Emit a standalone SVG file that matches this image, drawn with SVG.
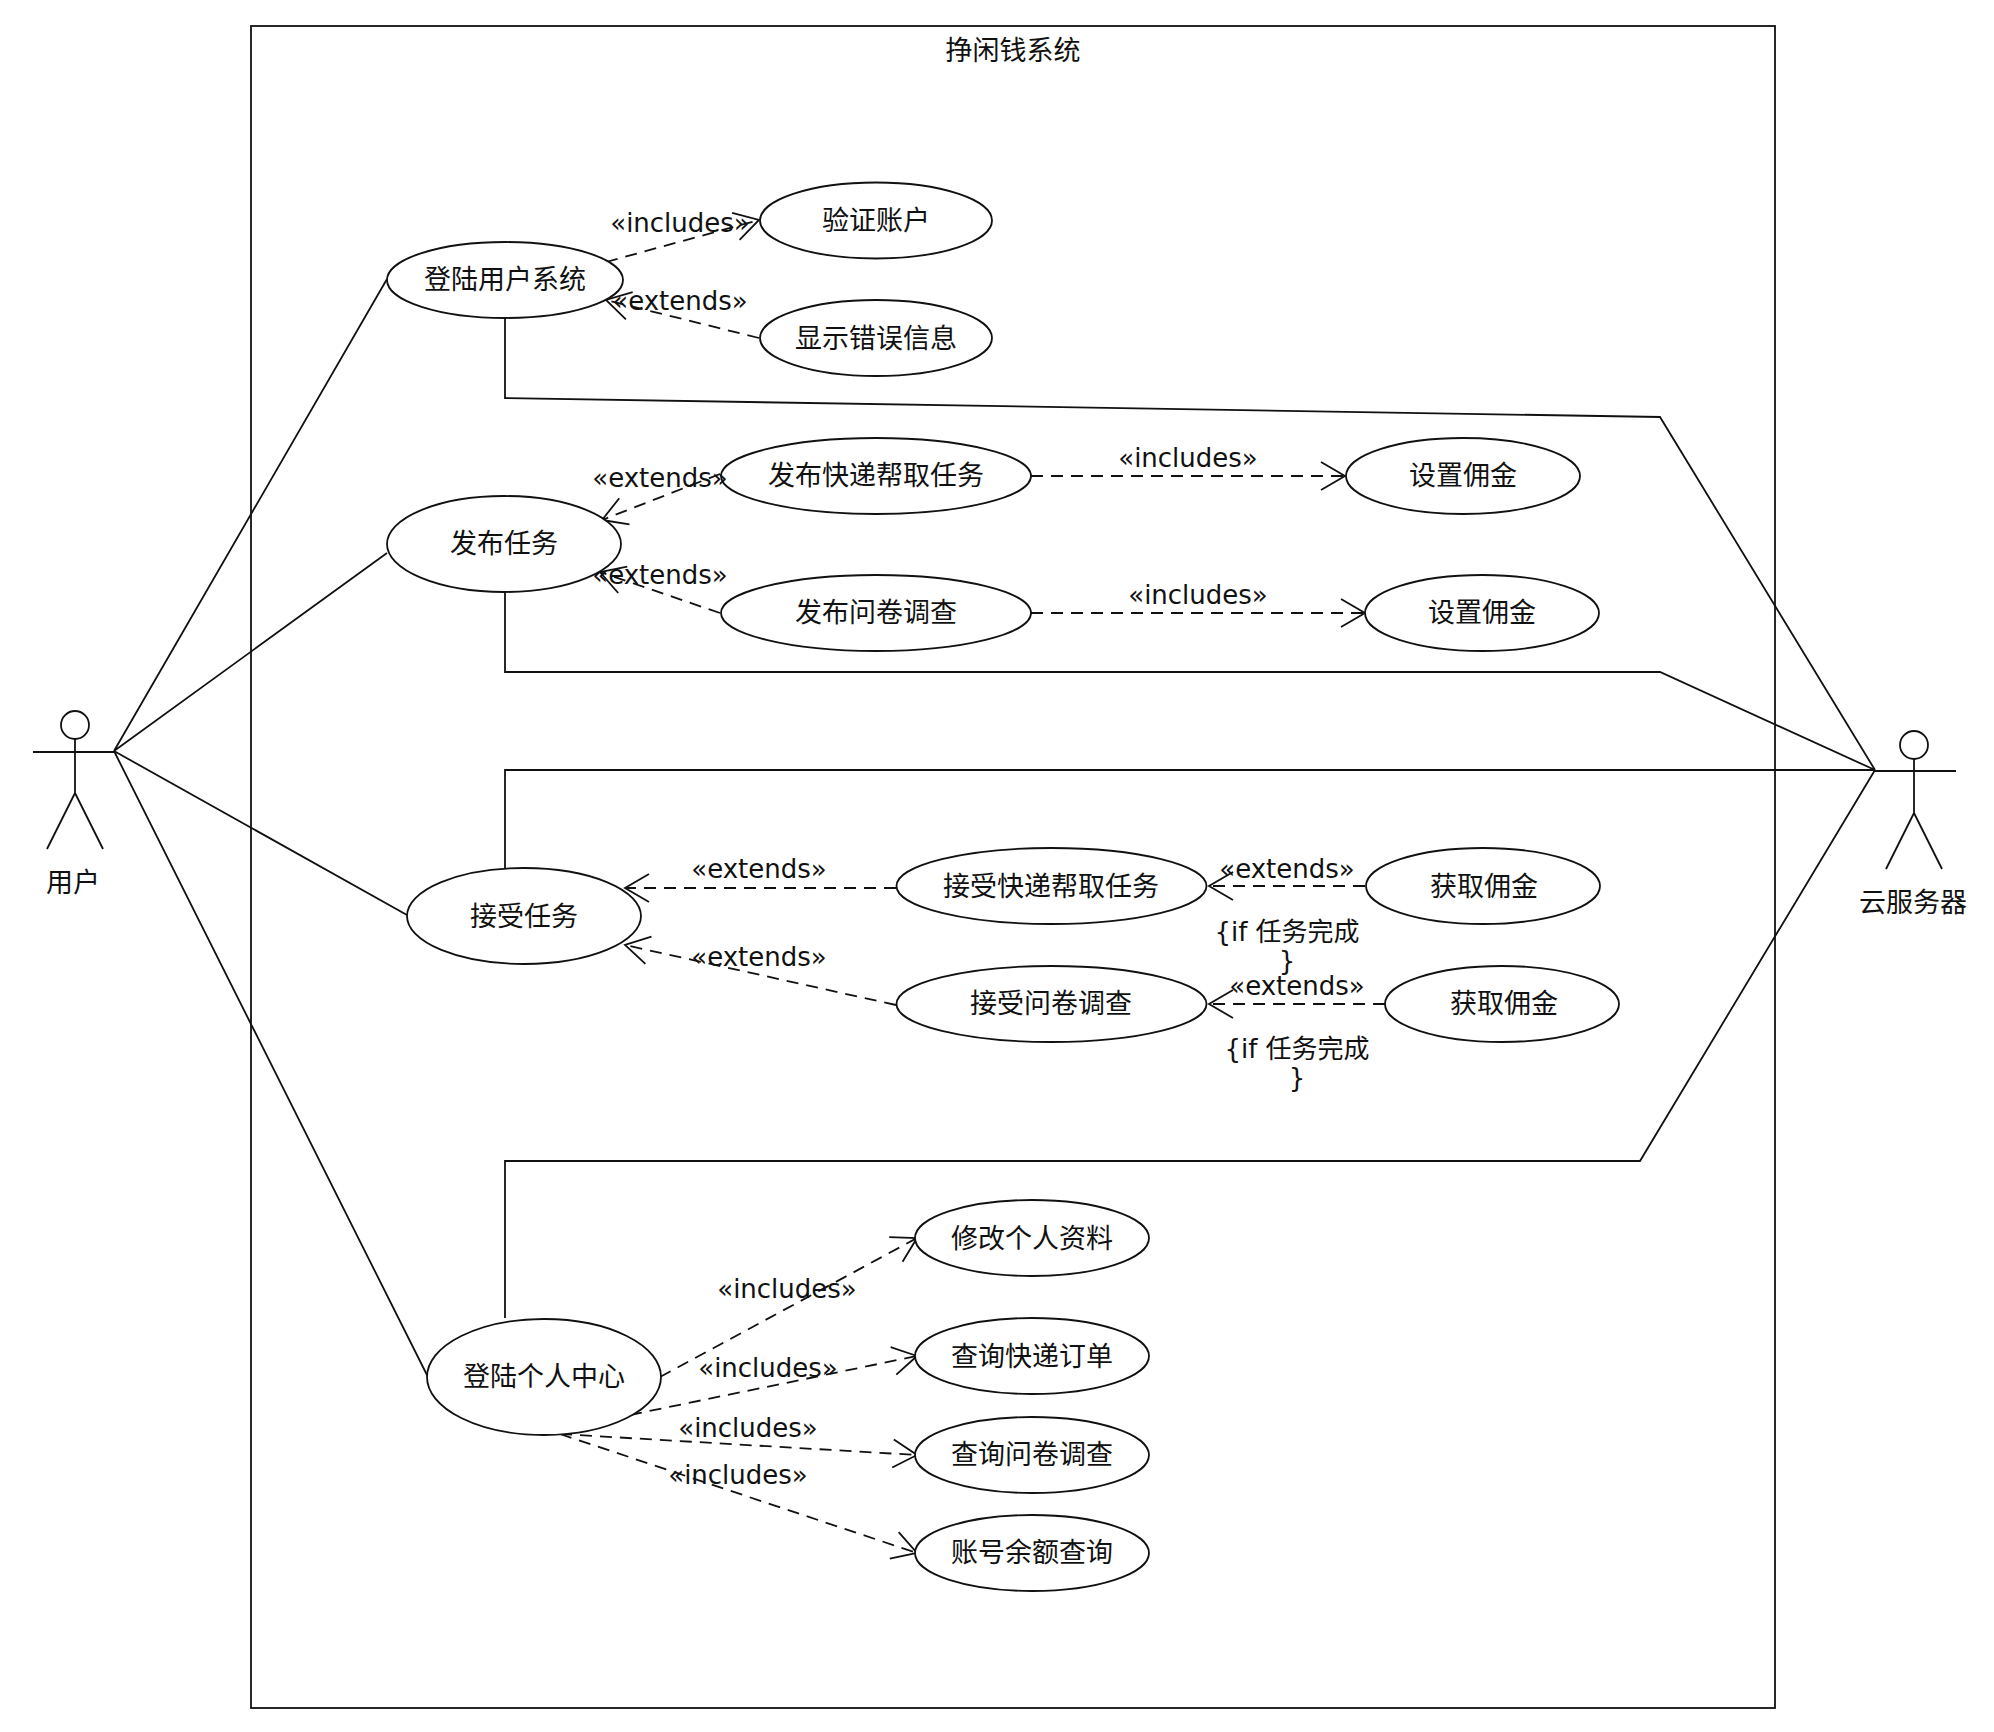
<svg xmlns="http://www.w3.org/2000/svg" width="1994" height="1732" viewBox="0 0 1994 1732">
<defs><marker id="open" markerUnits="userSpaceOnUse" markerWidth="30" markerHeight="34" refX="25" refY="17" orient="auto"><path d="M1 3 L25 17 L1 31" fill="none" stroke="#111" stroke-width="1.8"/></marker></defs>
<style>
text{font-family:"DejaVu Sans","Noto Sans CJK SC",sans-serif;font-size:26px;fill:#111;text-anchor:middle}
.n text,text.n{font-size:27px}
.l{fill:none;stroke:#111;stroke-width:1.8}
.d{fill:none;stroke:#111;stroke-width:1.8;stroke-dasharray:12 8;marker-end:url(#open)}
ellipse{fill:#fff;stroke:#111;stroke-width:1.8}
</style>
<rect x="251" y="26" width="1524" height="1682" fill="#fff" stroke="#111" stroke-width="1.8"/>
<text class="n" x="1013" y="60">挣闲钱系统</text>
<g id="connectors">
<path class="l" d="M114 751L387 279M114 751L387 553M114 751L407 915M114 751L428 1377"/>
<path class="l" d="M505 318V398L1660 417L1875 770M505 592V672H1660L1875 770M505 870V770H1875M505 1318V1161H1640L1875 770"/>
<path class="d" d="M606 262L759 220"/><path class="d" d="M759 338L606 300"/>
<path class="d" d="M720 474L602 520"/><path class="d" d="M720 613L600 572"/>
<path class="d" d="M1031 476H1345"/><path class="d" d="M1031 613H1365"/>
<path class="d" d="M896 888H625"/><path class="d" d="M896 1005L625 945"/>
<path class="d" d="M1365 886H1209"/><path class="d" d="M1385 1004H1209"/>
<path class="d" d="M660 1377L917 1238"/><path class="d" d="M630 1415L917 1356"/>
<path class="d" d="M560 1434L917 1455"/><path class="d" d="M560 1434L917 1553"/>
</g>
<g id="actor-user"><circle cx="75" cy="725" r="14" fill="#fff" stroke="#111" stroke-width="1.8"/><path class="l" d="M75 739V793M33 752H114M75 793L47 849M75 793L103 849"/><text class="n" x="73" y="892">用户</text></g>
<g id="actor-cloud"><circle cx="1914" cy="745" r="14" fill="#fff" stroke="#111" stroke-width="1.8"/><path class="l" d="M1914 759V813M1875 771H1956M1914 813L1886 869M1914 813L1942 869"/><text class="n" x="1913" y="912">云服务器</text></g>
<g id="login" class="n"><ellipse cx="505" cy="280" rx="118" ry="38"/><text x="505" y="289">登陆用户系统</text></g>
<g id="verify" class="n"><ellipse cx="876" cy="220.500" rx="116" ry="38"/><text x="876" y="230">验证账户</text></g>
<g id="err" class="n"><ellipse cx="876" cy="338" rx="116" ry="38"/><text x="876" y="348">显示错误信息</text></g>
<g id="publish" class="n"><ellipse cx="504" cy="544" rx="117" ry="48"/><text x="504" y="553">发布任务</text></g>
<g id="pub1" class="n"><ellipse cx="876" cy="476" rx="155" ry="38"/><text x="876" y="485">发布快递帮取任务</text></g>
<g id="pub2" class="n"><ellipse cx="876" cy="613" rx="155" ry="38"/><text x="876" y="622">发布问卷调查</text></g>
<g id="fee1" class="n"><ellipse cx="1463" cy="476" rx="117" ry="38"/><text x="1463" y="485">设置佣金</text></g>
<g id="fee2" class="n"><ellipse cx="1482" cy="613" rx="117" ry="38"/><text x="1482" y="622">设置佣金</text></g>
<g id="accept" class="n"><ellipse cx="524" cy="916" rx="117" ry="48"/><text x="524" y="926">接受任务</text></g>
<g id="acc1" class="n"><ellipse cx="1051.500" cy="886" rx="155" ry="38"/><text x="1051" y="896">接受快递帮取任务</text></g>
<g id="acc2" class="n"><ellipse cx="1051.500" cy="1004" rx="155" ry="38"/><text x="1051" y="1013">接受问卷调查</text></g>
<g id="get1" class="n"><ellipse cx="1483" cy="886" rx="117" ry="38"/><text x="1484" y="896">获取佣金</text></g>
<g id="get2" class="n"><ellipse cx="1502" cy="1004" rx="117" ry="38"/><text x="1504" y="1013">获取佣金</text></g>
<g id="center" class="n"><ellipse cx="544" cy="1377" rx="117" ry="58"/><text x="544" y="1386">登陆个人中心</text></g>
<g id="c1" class="n"><ellipse cx="1032" cy="1238" rx="117" ry="38"/><text x="1032" y="1248">修改个人资料</text></g>
<g id="c2" class="n"><ellipse cx="1032" cy="1356" rx="117" ry="38"/><text x="1032" y="1366">查询快递订单</text></g>
<g id="c3" class="n"><ellipse cx="1032" cy="1455" rx="117" ry="38"/><text x="1032" y="1464">查询问卷调查</text></g>
<g id="c4" class="n"><ellipse cx="1032" cy="1553" rx="117" ry="38"/><text x="1032" y="1562">账号余额查询</text></g>
<g id="labels">
<text x="680" y="232">«includes»</text><text x="680" y="310">«extends»</text>
<text x="660" y="487">«extends»</text><text x="660" y="584">«extends»</text>
<text x="1188" y="467">«includes»</text><text x="1198" y="604">«includes»</text>
<text x="759" y="878">«extends»</text><text x="759" y="966">«extends»</text>
<text x="1287" y="878">«extends»</text><text x="1297" y="995">«extends»</text>
<text x="1287" y="941">{if 任务完成</text><text x="1287" y="970">}</text>
<text x="1297" y="1058">{if 任务完成</text><text x="1297" y="1087">}</text>
<text x="787" y="1298">«includes»</text><text x="768" y="1377">«includes»</text>
<text x="748" y="1437">«includes»</text><text x="738" y="1484">«includes»</text>
</g>
</svg>
